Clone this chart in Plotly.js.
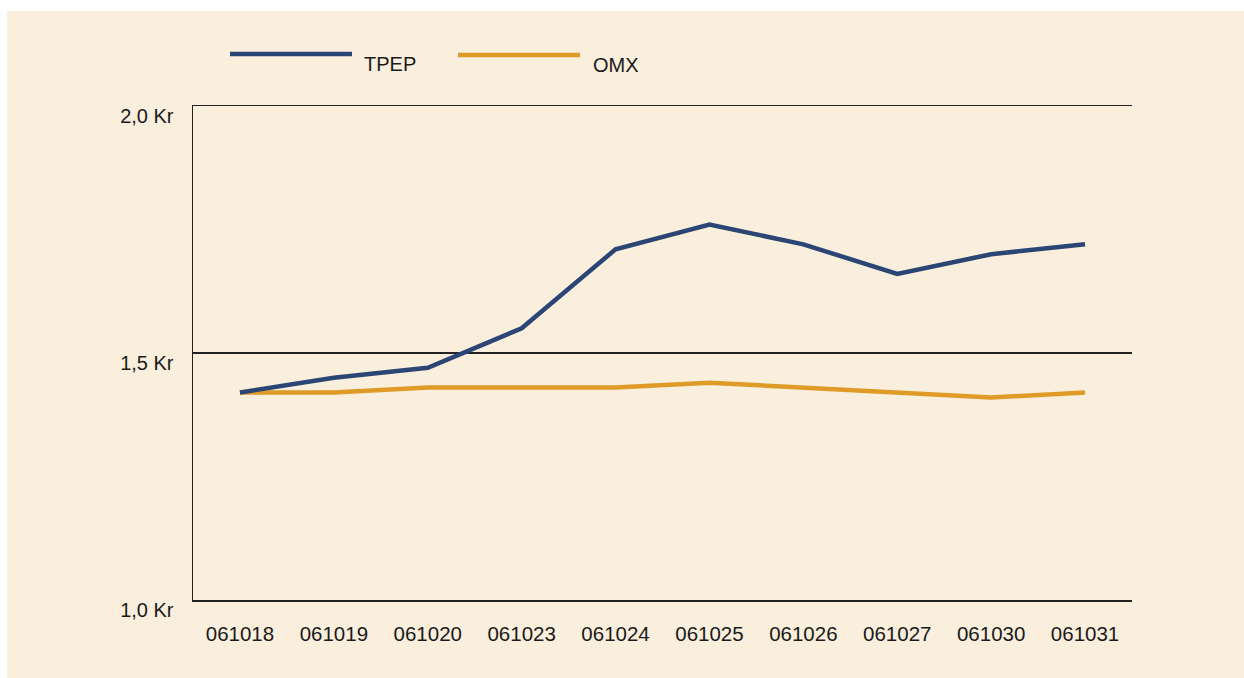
<!DOCTYPE html>
<html>
<head>
<meta charset="utf-8">
<script src="https://cdn.plot.ly/plotly-3.0.1.min.js"></script>
<style>
  html, body { margin: 0; padding: 0; background: #ffffff; }
  #chart { position: absolute; left: 7px; top: 11px; width: 1237px; height: 667px; }
</style>
</head>
<body>
<div id="chart"></div>
<script>
const dates = ["061018","061019","061020","061023","061024","061025","061026","061027","061030","061031"];
const tpep = [1.42, 1.45, 1.47, 1.55, 1.71, 1.76, 1.72, 1.66, 1.70, 1.72];
const omx  = [1.42, 1.42, 1.43, 1.43, 1.43, 1.44, 1.43, 1.42, 1.41, 1.42];
const yTickVals = [1.0, 1.5, 2.0];
const yTickText = ["1,0 Kr", "1,5 Kr", "2,0 Kr"];
const seriesNames = ["TPEP", "OMX"];

const blue = "#2B4575";
const gold = "#DF9B27";
const font = "Liberation Sans, Arial, Helvetica, sans-serif";

const traces = [
  { x: dates, y: omx, type: "scatter", mode: "lines", name: seriesNames[1],
    line: { color: gold, width: 4.5 }, hoverinfo: "skip" },
  { x: dates, y: tpep, type: "scatter", mode: "lines", name: seriesNames[0],
    line: { color: blue, width: 4.5 }, hoverinfo: "skip" }
];

const layout = {
  width: 1237, height: 667,
  paper_bgcolor: "#FAEFDC",
  plot_bgcolor: "#FAEFDC",
  margin: { l: 186, r: 112, t: 95, b: 78 },
  showlegend: false,
  font: { family: font, size: 20, color: "#1a1a1a" },
  xaxis: {
    type: "category",
    range: [-0.5, 9.5],
    showgrid: false,
    showline: true, mirror: true, linecolor: "#222", linewidth: 1.5,
    ticks: "", zeroline: false,
    tickfont: { family: font, size: 20.5, color: "#1a1a1a" },
    ticklabelstandoff: 15
  },
  yaxis: {
    range: [1.0, 2.0],
    tickvals: yTickVals, ticktext: yTickText,
    showgrid: true, gridcolor: "#222", gridwidth: 1.5,
    showline: true, linecolor: "#222", linewidth: 1.5,
    ticks: "", zeroline: false,
    tickfont: { family: font, size: 20, color: "#1a1a1a" },
    ticklabelshift: 10,
    ticklabelstandoff: 14
  },
  shapes: [
    { type: "line", xref: "paper", yref: "paper", x0: 0.0394, x1: 0.1693, y0: 1.1053, y1: 1.1053,
      line: { color: blue, width: 4.5 } },
    { type: "line", xref: "paper", yref: "paper", x0: 0.2822, x1: 0.4121, y0: 1.1032, y1: 1.1032,
      line: { color: gold, width: 4.5 } }
  ],
  annotations: [
    { xref: "paper", yref: "paper", x: 0.1800, y: 1.086, xanchor: "left", yanchor: "middle",
      text: seriesNames[0], showarrow: false, font: { family: font, size: 20, color: "#1a1a1a" } },
    { xref: "paper", yref: "paper", x: 0.4235, y: 1.082, xanchor: "left", yanchor: "middle",
      text: seriesNames[1], showarrow: false, font: { family: font, size: 20, color: "#1a1a1a" } }
  ]
};

Plotly.newPlot("chart", traces, layout, { displayModeBar: false, staticPlot: true });
</script>
</body>
</html>
